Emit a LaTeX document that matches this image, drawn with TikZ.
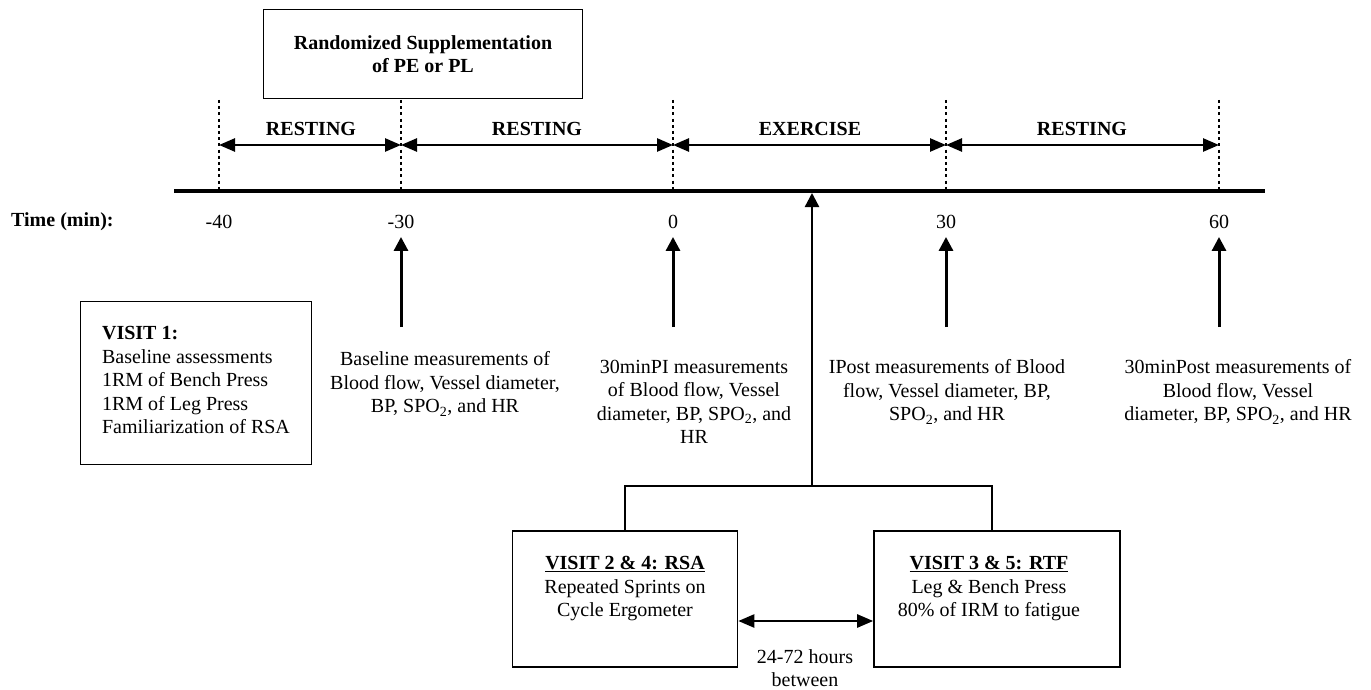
\documentclass[tikz,border=0pt]{standalone}
\usepackage{fontspec}
\setmainfont{Liberation Serif}
\usetikzlibrary{arrows.meta}
\usetikzlibrary{positioning}

\tikzset{
  txt/.style={font=\fontsize{20}{23.5}\selectfont, align=center, inner sep=0pt},
  lbl/.style={txt, font=\fontsize{20}{23.5}\selectfont\bfseries},
  box/.style={draw, line width=1.6pt, inner sep=0pt},
  tick/.style={line width=2.8pt, dash pattern=on 3pt off 3.2pt},
  span/.style={line width=2.6pt, {Triangle[length=16pt,width=13pt]}-{Triangle[length=16pt,width=13pt]}},
  up/.style={line width=3pt, -{Triangle[length=14pt,width=14pt]}},
}

\begin{document}
\begin{tikzpicture}[x=1pt,y=-1pt]
  \useasboundingbox (0,0) rectangle (1371,690);
  % time line
  \coordinate (tl) at (174,191);
  \coordinate (tr) at (1265,191);
  \draw[line width=4.5pt] (tl) -- (tr);
  \foreach \n/\x in {m40/219, m30/401, z/673, p30/946, p60/1219} {
    \coordinate (\n) at (\x,191);
    \coordinate (t\n) at (\x,100);
    \coordinate (a\n) at (\x,145);
    \draw[tick] (t\n) -- (\n);
  }
  \draw[span] (am40) -- (am30);
  \draw[span] (am30) -- (az);
  \draw[span] (az) -- (ap30);
  \draw[span] (ap30) -- (ap60);
  \node[lbl] (rest1) at (311,129) {RESTING};
  \node[lbl] (rest2) at (537,129) {RESTING};
  \node[lbl] (exer) at (810,129) {EXERCISE};
  \node[lbl] (rest3) at (1082,129) {RESTING};

  \node[box, lbl, minimum width=319pt, minimum height=89pt] (supp) at (423,54)
    {Randomized Supplementation\\of PE or PL};

  % minutes
  \node[lbl, anchor=west] (time) at (11,222) {Time (min):};
  \node[txt] (l40) at (219,222) {-40};
  \node[txt] (l30) at (401,222) {-30};
  \node[txt] (l0) at (673,222) {0};
  \node[txt] (r30) at (946,222) {30};
  \node[txt] (r60) at (1219,222) {60};

  % measurements
  \coordinate (b1) at (401,327);
  \coordinate (b2) at (673,327);
  \coordinate (b3) at (946,327);
  \coordinate (b4) at (1219,327);
  \draw[up] (b1) -- ([yshift=-8pt]l30.south);
  \draw[up] (b2) -- ([yshift=-8pt]l0.south);
  \draw[up] (b3) -- ([yshift=-8pt]r30.south);
  \draw[up] (b4) -- ([yshift=-8pt]r60.south);
  \node[txt] (base) at (445,384)
    {Baseline measurements of\\Blood flow, Vessel diameter,\\BP, SPO\textsubscript{2}, and HR};
  \node[txt] (pi) at (694,402)
    {30minPI measurements\\of Blood flow, Vessel\\diameter, BP, SPO\textsubscript{2}, and\\HR};
  \node[txt] (ipost) at (947,392)
    {IPost measurements of Blood\\flow, Vessel diameter, BP,\\SPO\textsubscript{2}, and HR};
  \node[txt] (post) at (1238,392)
    {30minPost measurements of\\Blood flow, Vessel\\diameter, BP, SPO\textsubscript{2}, and HR};

  \node[box, txt, align=left, minimum width=231pt, minimum height=163pt] (v1) at (196,383) {};
  \node[txt, align=left] (v1t) at (196,380)
    {\textbf{VISIT 1:}\\Baseline assessments\\1RM of Bench Press\\1RM of Leg Press\\Familiarization of RSA};

  % exercise visits
  \node[box, minimum width=225pt, minimum height=136pt] (v2) at (625,599) {};
  \node[txt, below=26pt of v2.north] (v2t)
    {\underline{\textbf{VISIT 2 \& 4: RSA}}\\Repeated Sprints on\\Cycle Ergometer};
  \node[box, minimum width=246pt, minimum height=136pt] (v3) at (997,599) {};
  \node[txt, below=26pt of v3.north, xshift=-8pt] (v3t)
    {\underline{\textbf{VISIT 3 \& 5: RTF}}\\Leg \& Bench Press\\80\% of IRM to fatigue};
  \coordinate (join) at (812,486);
  \coordinate (ex) at (812,193);
  \draw[line width=2.2pt] (v2.north) |- (join) -| ([xshift=-5pt]v3.north);
  \draw[up, line width=2.4pt] (join) -- (ex);
  \draw[span, line width=2.4pt] ([yshift=-22pt]v2.east) -- ([yshift=-22pt]v3.west);
  \node[txt] (gap) at (805,668) {24-72 hours\\between};
\end{tikzpicture}
\end{document}
